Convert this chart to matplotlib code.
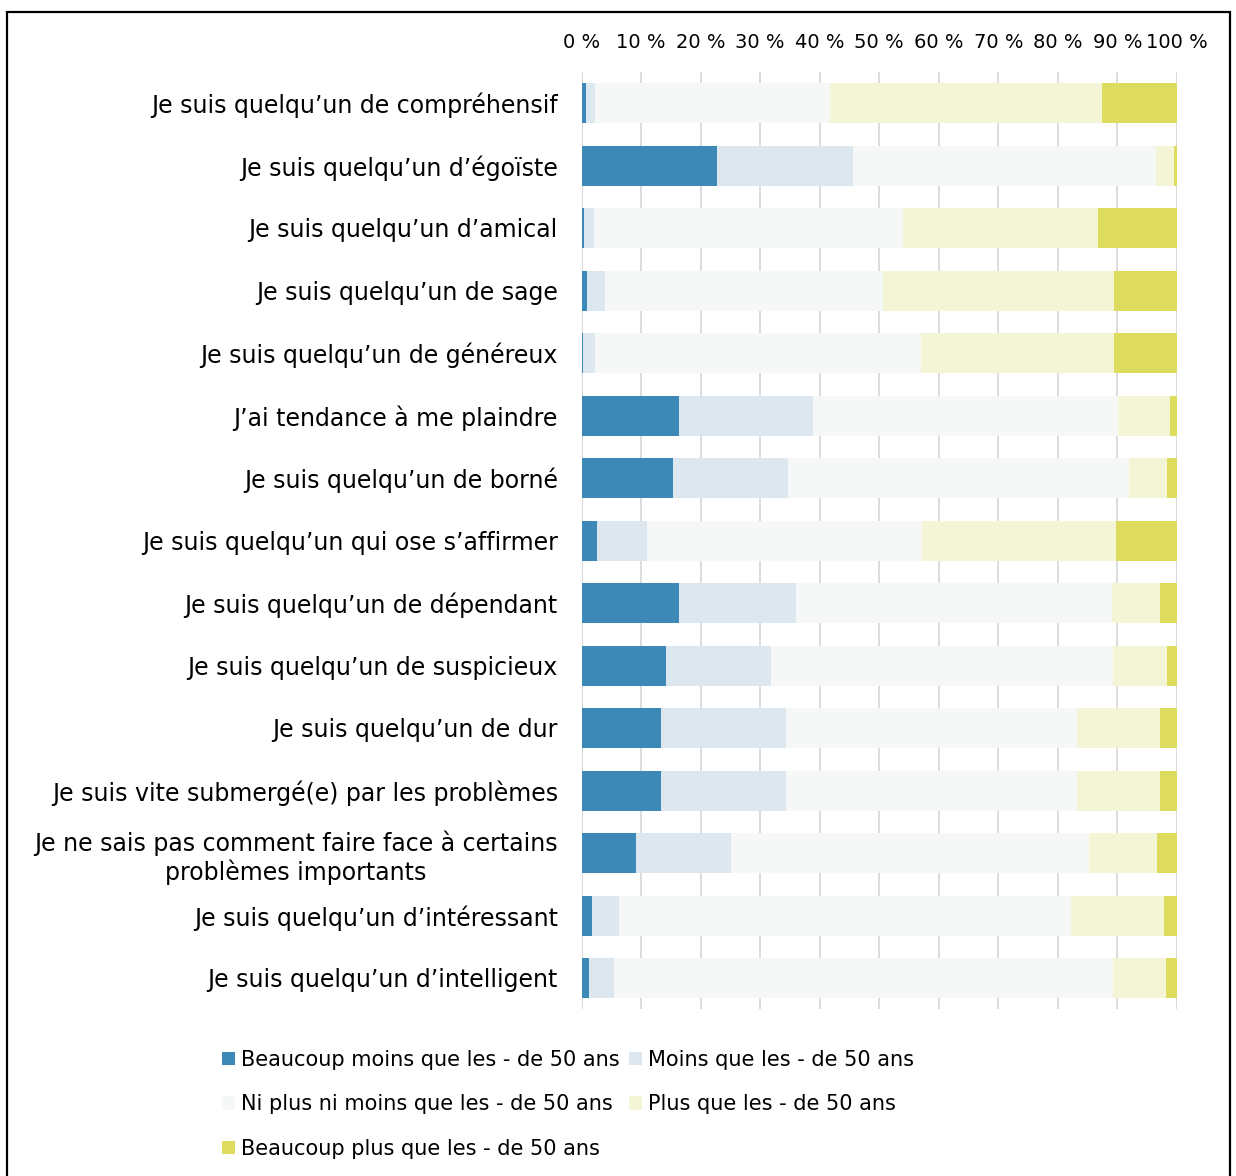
import matplotlib
matplotlib.use("Agg")
import matplotlib.pyplot as plt
import numpy as np
from matplotlib.patches import Rectangle

# categories (top to bottom)
labels = [
    "Je suis quelqu\u2019un de compréhensif",
    "Je suis quelqu\u2019un d\u2019égoïste",
    "Je suis quelqu\u2019un d\u2019amical",
    "Je suis quelqu\u2019un de sage",
    "Je suis quelqu\u2019un de généreux",
    "J\u2019ai tendance à me plaindre",
    "Je suis quelqu\u2019un de borné",
    "Je suis quelqu\u2019un qui ose s\u2019affirmer",
    "Je suis quelqu\u2019un de dépendant",
    "Je suis quelqu\u2019un de suspicieux",
    "Je suis quelqu\u2019un de dur",
    "Je suis vite submergé(e) par les problèmes",
    "Je ne sais pas comment faire face à certains\nproblèmes importants",
    "Je suis quelqu\u2019un d\u2019intéressant",
    "Je suis quelqu\u2019un d\u2019intelligent",
]

series_names = [
    "Beaucoup moins que les - de 50 ans",
    "Moins que les - de 50 ans",
    "Ni plus ni moins que les - de 50 ans",
    "Plus que les - de 50 ans",
    "Beaucoup plus que les - de 50 ans",
]

beaucoup_moins = [0.8, 22.8, 0.4, 0.9, 0.2, 16.4, 15.4, 2.6, 16.3, 14.2, 13.4, 13.4, 9.2, 1.8, 1.2]
moins = [1.5, 22.8, 1.7, 3.1, 2.0, 22.4, 19.2, 8.4, 19.7, 17.7, 20.9, 20.9, 15.9, 4.5, 4.2]
ni_ni = [39.5, 50.9, 51.9, 46.7, 54.8, 51.3, 57.3, 46.1, 53.1, 57.4, 48.9, 48.9, 60.2, 75.9, 83.9]
plus = [45.6, 3.0, 32.7, 38.8, 32.4, 8.8, 6.4, 32.6, 8.0, 9.1, 13.9, 13.9, 11.3, 15.7, 8.9]
beaucoup_plus = [12.6, 0.5, 13.3, 10.5, 10.6, 1.1, 1.7, 10.3, 2.9, 1.6, 2.9, 2.9, 3.4, 2.1, 1.8]

colors = ["#3C89B8", "#DCE7F0", "#F6F8F8", "#F4F5D6", "#DDDC5E"]

xticks = [0, 10, 20, 30, 40, 50, 60, 70, 80, 90, 100]

W, H = 1236, 1176
fig = plt.figure(figsize=(W / 100, H / 100), dpi=100)
plt.rcParams['font.family'] = ['DejaVu Sans']

ax = fig.add_axes([581.5 / W, 1 - 1009.25 / H, (1177 - 581.5) / W, (1009.25 - 71.75) / H])

data = [beaucoup_moins, moins, ni_ni, plus, beaucoup_plus]
y = np.arange(len(labels))
left = np.zeros(len(labels))
handles = []
for vals, name, col in zip(data, series_names, colors):
    vals = np.array(vals)
    b = ax.barh(y, vals, left=left, height=0.64, color=col, label=name, zorder=3)
    handles.append(b)
    left = left + vals

ax.set_xlim(0, 100)
ax.set_ylim(len(labels) - 0.5, -0.5)
ax.set_xticks(xticks)
ax.set_xticklabels([f"{t} %" for t in xticks], fontsize=14)
ax.xaxis.tick_top()
ax.tick_params(axis="x", length=0, pad=14)
ax.set_yticks(y)
ax.set_yticklabels(labels, fontsize=17)
ax.tick_params(axis="y", length=0, pad=17)
for t in ax.get_yticklabels():
    t.set_multialignment("center")
ax.grid(axis="x", color="#D9D9D9", linewidth=1.3, zorder=0)
ax.set_axisbelow(True)
for s in ax.spines.values():
    s.set_visible(False)

# legend filled row-wise
order = [0, 2, 4, 1, 3]
leg = fig.legend([handles[i] for i in order], [series_names[i] for i in order],
                 ncol=2, loc="upper left", bbox_to_anchor=(222 / W, 1 - 1050 / H),
                 frameon=False, fontsize=15, handlelength=0.62, handleheight=0.62,
                 handletextpad=0.3, columnspacing=0.45, labelspacing=1.17,
                 borderaxespad=0, borderpad=0)

# outer frame
fig.patches.append(Rectangle((7 / W, -0.05), (1230 - 7) / W, 1.05 - 12 / H,
                             transform=fig.transFigure, fill=False,
                             edgecolor="black", linewidth=1.6))

fig.savefig("out.png", dpi=100)
